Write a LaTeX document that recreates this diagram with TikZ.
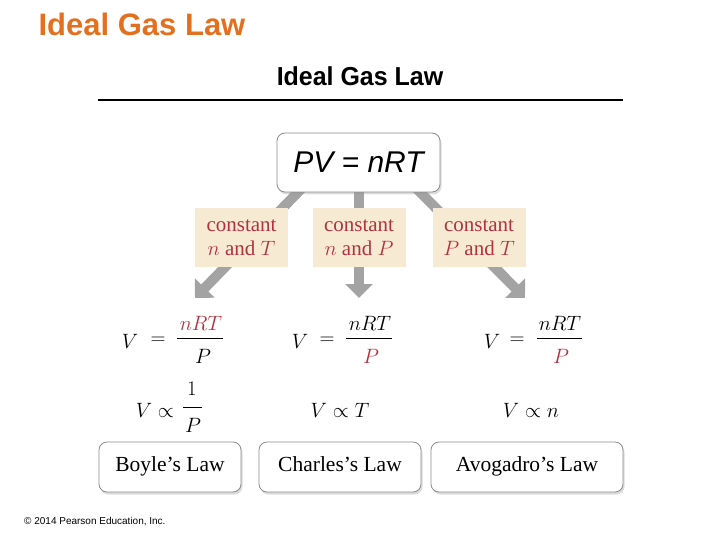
\documentclass[tikz,border=0pt]{standalone}
\usepackage{fontspec}
\setmainfont{Liberation Serif}
\newfontfamily\arialfont{Liberation Sans}
\usetikzlibrary{arrows.meta,shadows}
\definecolor{titleorange}{HTML}{E2701E}
\definecolor{redtext}{HTML}{B3323F}
\definecolor{tanfill}{HTML}{F6EAD3}
\definecolor{arrowgray}{HTML}{A3A3A3}
\definecolor{boxborder}{HTML}{8C8C8C}
\tikzset{
  wbox/.style={draw=boxborder, line width=0.8pt, fill=white, rounded corners=8pt,
    drop shadow={shadow xshift=1.5pt, shadow yshift=-2.5pt, opacity=0.35, fill=black!40}},
  tanbox/.style={fill=tanfill, minimum width=93pt, minimum height=59pt, inner sep=0pt,
    align=center, text=redtext, font=\fontsize{21}{24}\selectfont},
  garrow/.style={draw=arrowgray, line width=10pt, -{Triangle[length=14pt,width=27pt]}},
  eq/.style={inner sep=0pt, font=\fontsize{22}{24}\selectfont},
  fbar/.style={line width=0.7pt},
  lawtext/.style={font=\fontsize{21.5}{24}\selectfont, text height=14pt, text depth=5pt, inner ysep=0pt}
}
\begin{document}
\begin{tikzpicture}[x=1pt,y=-1pt]
\useasboundingbox (0,0) rectangle (720,540);
% titles
\node[text=titleorange, font=\arialfont\bfseries\fontsize{31}{34}\selectfont, inner sep=0pt] (title) at (142,24) {Ideal Gas Law};
\node[font=\arialfont\bfseries\fontsize{26}{30}\selectfont, inner sep=0pt, xscale=0.96] (sub) at (360,76) {Ideal Gas Law};
\coordinate (rl) at (98,100);
\coordinate (rr) at (623,100);
\draw[line width=1.2pt] (rl) -- (rr);
% arrow start/end points
\coordinate (ls) at (304,186);
\coordinate (le) at (195,298);
\coordinate (ms) at (359,186);
\coordinate (me) at (359,298);
\coordinate (rs) at (414,186);
\coordinate (re) at (525,298);
\draw[garrow] (ls) -- (le);
\draw[garrow] (ms) -- (me);
\draw[garrow] (rs) -- (re);
% top box
\node[wbox, minimum width=163pt, minimum height=59pt, inner sep=0pt,
  font=\arialfont\itshape\fontsize{30}{32}\selectfont] (pv) at (358.5,162.5) {PV = nRT};
% tan boxes
\node[tanbox] (c1) at (241.5,237.5) {constant\\$n$ and $T$};
\node[tanbox] (c2) at (359,237.5) {constant\\$n$ and $P$};
\node[tanbox] (c3) at (479,237.5) {constant\\$P$ and $T$};
% row 1 equations
\node[eq] (v1) at (130,341) {$V$};
\node[eq] (e1) at (158,341) {$=$};
\node[eq, text=redtext] (n1) at (201,323) {$nRT$};
\node[eq] (p1) at (203,356) {$P$};
\coordinate (b1l) at (177,338); \coordinate (b1r) at (223,338);
\draw[fbar] (b1l) -- (b1r);
\node[eq] (v2) at (300,341) {$V$};
\node[eq] (e2) at (327,341) {$=$};
\node[eq] (n2) at (370,323) {$nRT$};
\node[eq, text=redtext] (p2) at (371,356) {$P$};
\coordinate (b2l) at (346,338); \coordinate (b2r) at (392,338);
\draw[fbar] (b2l) -- (b2r);
\node[eq] (v3) at (492,341) {$V$};
\node[eq] (e3) at (517,341) {$=$};
\node[eq] (n3) at (560,323) {$nRT$};
\node[eq, text=redtext] (p3) at (561,356) {$P$};
\coordinate (b3l) at (537,338); \coordinate (b3r) at (582,338);
\draw[fbar] (b3l) -- (b3r);
% row 2 proportionalities
\node[eq] (pv1) at (155,410) {$V\propto$};
\node[eq] (one) at (192,389) {$1$};
\node[eq] (pp) at (193,425) {$P$};
\coordinate (b4l) at (183,407); \coordinate (b4r) at (202,407);
\draw[fbar] (b4l) -- (b4r);
\node[eq] (pv2) at (340,410) {$V\propto T$};
\node[eq] (pv3) at (531,410) {$V\propto n$};
% bottom boxes
\node[wbox, minimum width=142pt, minimum height=50pt, lawtext] (boyle) at (170,467) {Boyle’s Law};
\node[wbox, minimum width=162pt, minimum height=50pt, lawtext] (charles) at (340,467) {Charles’s Law};
\node[wbox, minimum width=192pt, minimum height=50pt, lawtext] (avog) at (527,467) {Avogadro’s Law};
% copyright
\node[anchor=west, inner sep=0pt, font=\arialfont\fontsize{10}{12}\selectfont] (copy) at (24,522) {© 2014 Pearson Education, Inc.};
\end{tikzpicture}
\end{document}
